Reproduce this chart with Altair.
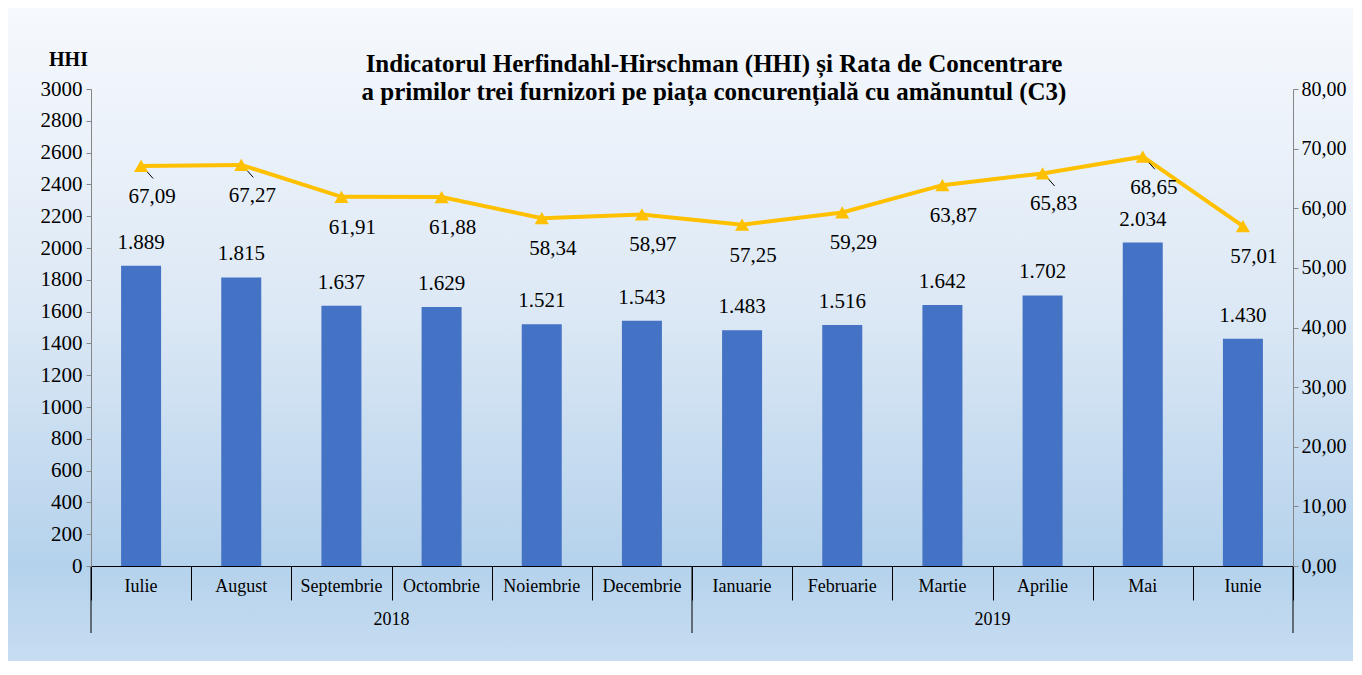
import altair as alt
import pandas as pd

months = ["Iulie", "August", "Septembrie", "Octombrie", "Noiembrie", "Decembrie",
          "Ianuarie", "Februarie", "Martie", "Aprilie", "Mai", "Iunie"]
years = ["2018"] * 6 + ["2019"] * 6
hhi = [1889, 1815, 1637, 1629, 1521, 1543, 1483, 1516, 1642, 1702, 2034, 1430]
c3 = [67.09, 67.27, 61.91, 61.88, 58.34, 58.97, 57.25, 59.29, 63.87, 65.83, 68.65, 57.01]
leader = [1, 1, 0, 0, 0, 0, 0, 0, 0, 1, 1, 0]
title_lines = ["Indicatorul Herfindahl-Hirschman (HHI) și Rata de Concentrare",
               "a primilor trei furnizori pe piața concurențială cu amănuntul (C3)"]

W, H = 1202, 477
FONT = "Liberation Serif"

df = pd.DataFrame({
    "month": months, "year": years, "hhi": hhi, "c3": c3, "leader": leader,
    "pos": [i + 0.5 for i in range(len(months))],
})

# year groups
yr = df.groupby("year", sort=False).size().reset_index(name="n")
yr["end"] = yr["n"].cumsum()
yr["start"] = yr["end"] - yr["n"]
yr["mid"] = (yr["start"] + yr["end"]) / 2
bounds = pd.DataFrame({"b": sorted(set(yr["start"]).union(set(yr["end"])))})

xscale = alt.Scale(domain=[0, 12], nice=False, zero=False, padding=0)
xaxis = alt.Axis(values=list(range(13)), labels=False, tickSize=34, tickColor="black",
                 domainColor="black", grid=False, title=None, tickWidth=1, zindex=1)

def X(field):
    return alt.X(field, type="quantitative", scale=xscale, axis=xaxis)

hhi_scale = alt.Scale(domain=[0, 3000], nice=False)
hhi_axis = alt.Axis(values=list(range(0, 3001, 200)), format="d", grid=False,
                    labelFont=FONT, labelFontSize=21, labelColor="black",
                    labelOverlap=False, labelBound=False, labelFlush=False,
                    domainColor="#868686", tickColor="#868686", tickSize=5,
                    labelPadding=4, zindex=1,
                    title="HHI", titleAngle=0, titleFont=FONT, titleFontSize=20,
                    titleFontWeight="bold", titleColor="black", titleX=-23, titleY=-30,
                    titleAlign="center", titleBaseline="middle")

c3_scale = alt.Scale(domain=[0, 80], nice=False)
c3_axis = alt.Axis(orient="right", values=list(range(0, 81, 10)), grid=False,
                   labelExpr="replace(format(datum.value, '.2f'), '.', ',')",
                   labelFont=FONT, labelFontSize=20, labelColor="black",
                   labelOverlap=False, labelBound=False, labelFlush=False,
                   domainColor="#868686", tickColor="#868686", tickSize=5,
                   labelPadding=3, title=None, zindex=1)

def YH(field):
    return alt.Y(field, type="quantitative", scale=hhi_scale, axis=hhi_axis)

def YC(field):
    return alt.Y(field, type="quantitative", scale=c3_scale, axis=c3_axis)

base = alt.Chart(df)

bg = alt.Chart(pd.DataFrame({"a": [0]})).mark_rect(
    fill=alt.LinearGradient(
        gradient="linear", x1=0, x2=0, y1=0, y2=1,
        stops=[alt.GradientStop(offset=0, color="#F6F9FD"),
               alt.GradientStop(offset=0.45, color="#DCE8F5"),
               alt.GradientStop(offset=0.82, color="#B5D2EC"),
               alt.GradientStop(offset=1, color="#CBE0F3")]),
).encode(x=alt.value(-84), x2=alt.value(W + 80), y=alt.value(-82), y2=alt.value(H + 120))

bars = base.mark_bar(color="#4472C4", size=40).encode(x=X("pos"), y=YH("hhi"))

bar_labels = base.transform_calculate(
    lab="replace(format(datum.hhi, ','), ',', '.')"
).mark_text(font=FONT, fontSize=21, color="black", baseline="middle", dy=-23).encode(
    x=X("pos"), y=YH("hhi"), text="lab:N")

left = alt.layer(bars, bar_labels)

line = base.mark_line(color="#FFC000", strokeWidth=4).encode(x=X("pos"), y=YC("c3"))
points = base.mark_point(shape="triangle-up", filled=True, color="#FFC000", size=200, opacity=1).encode(
    x=X("pos"), y=YC("c3"))

leaders = base.transform_filter("datum.leader == 1").transform_calculate(
    x1="datum.pos + 0.02", y1="datum.c3 - 0.2", xe="datum.pos + 0.12", ye="datum.c3 - 2.1"
).mark_rule(color="black", strokeWidth=1).encode(
    x=X("x1"), x2="xe:Q", y=YC("y1"), y2="ye:Q")

line_labels = base.transform_calculate(
    lab="replace(format(datum.c3, '.2f'), '.', ',')"
).mark_text(font=FONT, fontSize=21, color="black", baseline="middle", dx=11, dy=31).encode(
    x=X("pos"), y=YC("c3"), text="lab:N")

right = alt.layer(line, leaders, points, line_labels)

month_labels = base.mark_text(font=FONT, fontSize=18, color="black", baseline="middle").encode(
    x=X("pos"), y=alt.value(H + 21), text="month:N")

year_labels = alt.Chart(yr).mark_text(font=FONT, fontSize=18, color="black", baseline="middle").encode(
    x=X("mid"), y=alt.value(H + 54), text="year:N")

year_rules = alt.Chart(bounds).mark_rule(color="black", strokeWidth=1).encode(
    x=X("b"), y=alt.value(H), y2=alt.value(H + 67))

titles = [
    alt.Chart(pd.DataFrame({"t": [t]})).mark_text(
        font=FONT, fontSize=25, fontWeight="bold", color="black",
        baseline="alphabetic", align="center"
    ).encode(x=alt.value(623), y=alt.value(-17 + 28 * k), text="t:N")
    for k, t in enumerate(title_lines)
]

chart = alt.layer(bg, left, right, month_labels, year_labels, year_rules, *titles).resolve_scale(
    y="independent"
).properties(
    width=W, height=H,
    padding={"left": 83, "top": 81, "right": 60, "bottom": 95},
    autosize=alt.AutoSizeParams(type="none"),
    background="white",
).configure_view(stroke=None)

chart.save("out.html", embed_options={"renderer": "svg", "actions": False})
